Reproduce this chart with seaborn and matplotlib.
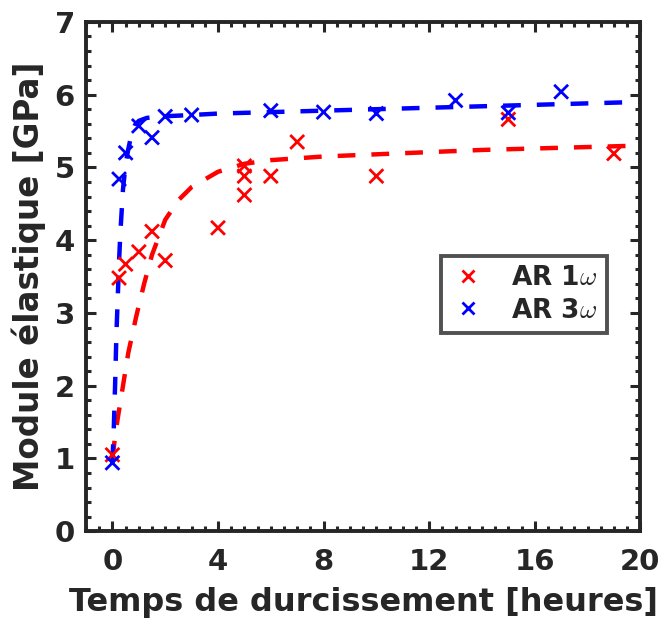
import matplotlib
matplotlib.use("Agg")
import pandas as pd
import matplotlib.pyplot as plt
import seaborn as sns
from matplotlib.ticker import MultipleLocator

# ----------------------------
# Data
# ----------------------------
ar1_time = [0, 0.25, 0.5, 1, 1.5, 2, 4, 5, 5, 5, 6, 7, 10, 15, 19]
ar1_module = [1.05, 3.48, 3.67, 3.84, 4.12, 3.72, 4.17, 5.02, 4.88, 4.62, 4.88, 5.35, 4.88, 5.66, 5.19]

ar3_time = [0, 0.25, 0.5, 1, 1.5, 2, 3, 6, 8, 10, 13, 15, 17]
ar3_module = [0.94, 4.84, 5.2, 5.57, 5.41, 5.7, 5.72, 5.78, 5.76, 5.74, 5.92, 5.75, 6.04]

# fitted curves (dashed)
ar1_fit_time = [0, 0.1, 0.2, 0.4, 0.6, 0.9, 1.2, 1.5, 2, 2.5, 3, 4, 5, 6, 8, 10, 12, 14, 16, 18, 20]
ar1_fit_module = [1.0, 1.3, 1.55, 2.0, 2.45, 2.95, 3.4, 3.8, 4.28, 4.55, 4.73, 4.94, 5.05, 5.1, 5.15,
                  5.18, 5.21, 5.24, 5.26, 5.28, 5.30]

ar3_fit_time = [0, 0.05, 0.1, 0.15, 0.2, 0.25, 0.3, 0.4, 0.5, 0.6, 0.7, 0.85, 1.0, 1.3, 1.8, 3, 4,
                6, 8, 10, 12, 14, 16, 18, 20]
ar3_fit_module = [0.95, 1.4, 2.0, 2.7, 3.2, 3.7, 4.1, 4.7, 5.05, 5.25, 5.42, 5.58, 5.64, 5.68, 5.70,
                  5.72, 5.74, 5.76, 5.78, 5.8, 5.82, 5.84, 5.86, 5.88, 5.9]

labels = [r"AR 1$\omega$", r"AR 3$\omega$"]
colors = ["#ff0000", "#0000ff"]

points = pd.concat([
    pd.DataFrame({"t": ar1_time, "E": ar1_module, "serie": labels[0]}),
    pd.DataFrame({"t": ar3_time, "E": ar3_module, "serie": labels[1]}),
], ignore_index=True)
fits = pd.concat([
    pd.DataFrame({"t": ar1_fit_time, "E": ar1_fit_module, "serie": labels[0]}),
    pd.DataFrame({"t": ar3_fit_time, "E": ar3_fit_module, "serie": labels[1]}),
], ignore_index=True)

# ----------------------------
# Style
# ----------------------------
sns.set_style("ticks")
plt.rcParams["font.family"] = ["DejaVu Sans"]
plt.rcParams["font.weight"] = "bold"
plt.rcParams["axes.labelweight"] = "bold"
plt.rcParams["mathtext.fontset"] = "cm"
plt.rcParams["xtick.direction"] = "in"
plt.rcParams["ytick.direction"] = "in"

DARK = "#262626"

fig = plt.figure(figsize=(6.67, 6.25), dpi=100)
ax = fig.add_axes([0.129, 0.150, 0.831, 0.815])

palette = dict(zip(labels, colors))
sns.lineplot(data=fits, x="t", y="E", hue="serie", palette=palette, legend=False,
             linewidth=3.2, dashes=False, sort=False, ax=ax)
for ln in ax.get_lines():
    ln.set_dashes((4.0, 3.6))

sns.scatterplot(data=points, x="t", y="E", hue="serie", palette=palette, marker="x",
                s=100, linewidth=2.0, ax=ax, zorder=3)

ax.set_xlim(-1, 20)
ax.set_ylim(0, 7)
ax.xaxis.set_major_locator(MultipleLocator(4))
ax.xaxis.set_minor_locator(MultipleLocator(0.5))
ax.yaxis.set_major_locator(MultipleLocator(1))
ax.yaxis.set_minor_locator(MultipleLocator(0.2))
ax.tick_params(which="both", top=True, right=True, color=DARK, labelsize=21,
               labelcolor=DARK, width=2.2)
ax.tick_params(which="major", length=7)
ax.tick_params(which="minor", length=3.5)
ax.tick_params(axis="y", which="major", pad=8)
ax.tick_params(axis="x", which="major", pad=12)
for sp in ax.spines.values():
    sp.set_linewidth(2.8)
    sp.set_color(DARK)

ax.set_xlabel("Temps de durcissement [heures]", fontsize=23, color=DARK, labelpad=8)
ax.set_ylabel("Module élastique [GPa]", fontsize=23.5, color=DARK, labelpad=6)

leg = ax.legend(loc="center", bbox_to_anchor=(0.79, 0.465), fontsize=19, frameon=True,
                fancybox=False, edgecolor=DARK, handlelength=1.3, handletextpad=1.0,
                borderpad=0.35, borderaxespad=0, labelspacing=0.25, markerscale=0.85)
leg._legend_box.sep = 6
leg.get_frame().set_linewidth(2.8)
for txt in leg.get_texts():
    txt.set_fontweight("bold")

fig.savefig("out.png", dpi=100)
